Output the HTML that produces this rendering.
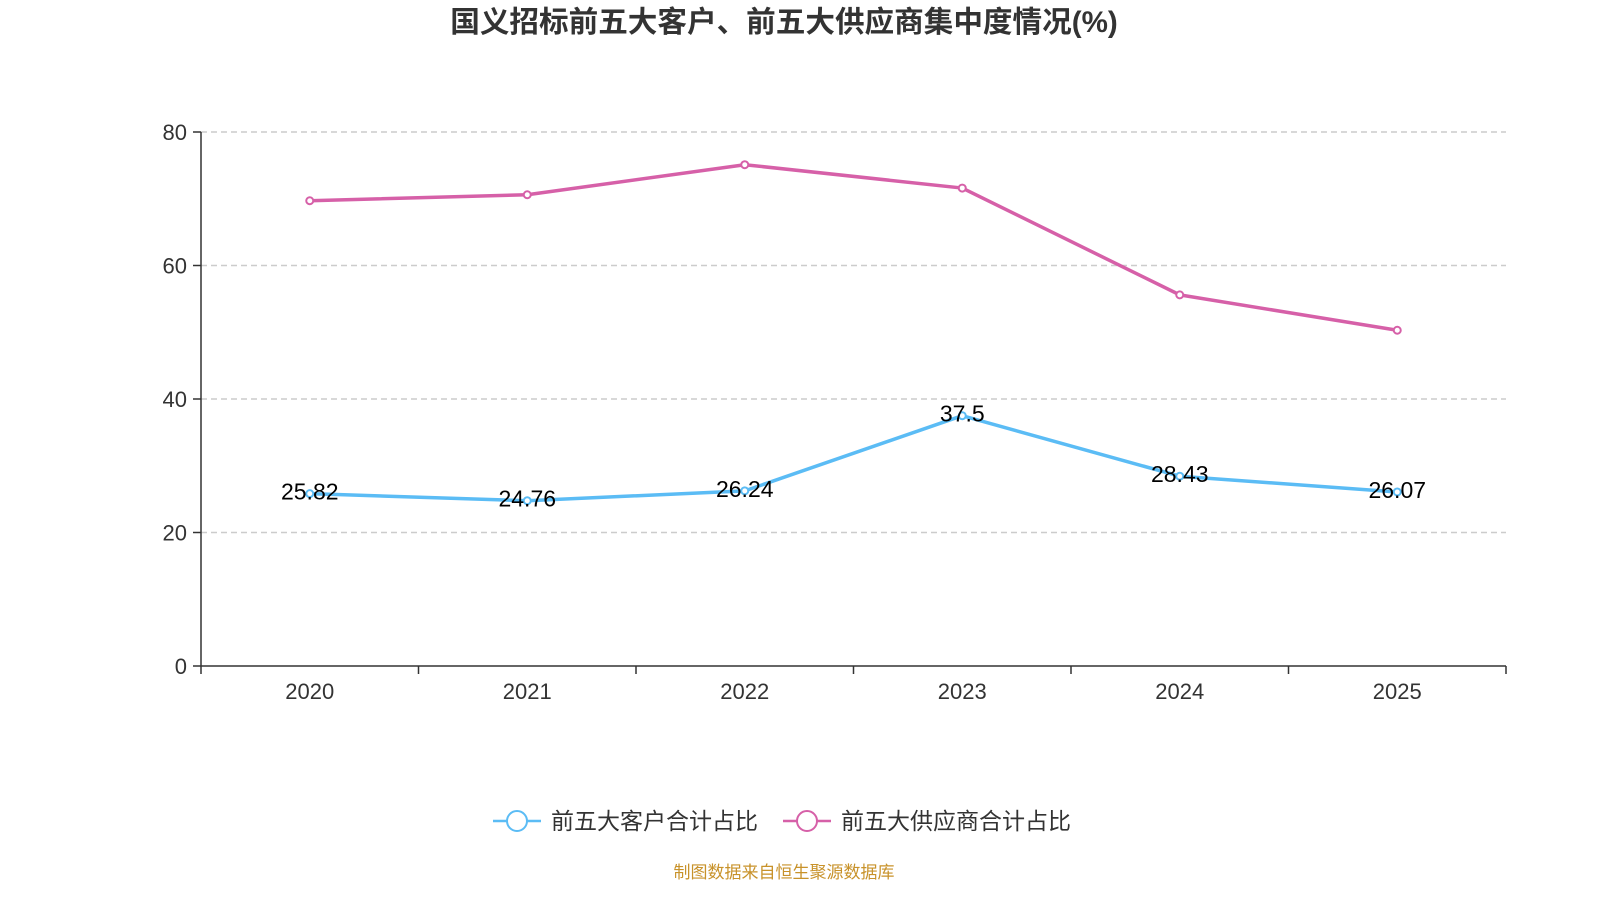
<!DOCTYPE html>
<html><head><meta charset="utf-8">
<style>
html,body{margin:0;padding:0;background:#fff;}
svg{display:block;font-family:"Liberation Sans","Noto Sans CJK SC",sans-serif;}
</style></head>
<body>
<svg id="chart" width="1600" height="900" xmlns="http://www.w3.org/2000/svg">
<text x="784" y="32" text-anchor="middle" font-size="29.6" font-weight="bold" fill="#333">国义招标前五大客户、前五大供应商集中度情况(%)</text>
<g id="grid"></g>
<g id="axes"></g>
<g id="series"></g>
<g>
<g>
<line x1="493" y1="821" x2="541" y2="821" stroke="#5bbcf5" stroke-width="2.5"/>
<circle cx="517" cy="821" r="10" fill="#fff" stroke="#5bbcf5" stroke-width="2"/>
<text x="551" y="829" font-size="23" fill="#333">前五大客户合计占比</text>
</g>
<g>
<line x1="783" y1="821" x2="831" y2="821" stroke="#d660a8" stroke-width="2.5"/>
<circle cx="807" cy="821" r="10" fill="#fff" stroke="#d660a8" stroke-width="2"/>
<text x="841" y="829" font-size="23" fill="#333">前五大供应商合计占比</text>
</g>
</g>
<text x="784" y="878" text-anchor="middle" font-size="17" fill="#c8922a">制图数据来自恒生聚源数据库</text>
</svg>
<script>
const categories=["2020","2021","2022","2023","2024","2025"];
const customerValues=[25.82,24.76,26.24,37.5,28.43,26.07];
const supplierValues=[69.7,70.6,75.1,71.6,55.6,50.3];
const yTicks=[0,20,40,60,80];
const customerLabels=["25.82","24.76","26.24","37.5","28.43","26.07"];

const NS="http://www.w3.org/2000/svg";
const x0=201,x1=1506,yTop=132,yBot=666,yMax=80;
const step=(x1-x0)/categories.length;
const xs=i=>x0+step*(i+0.5);
const ys=v=>yBot-(v/yMax)*(yBot-yTop);
function mk(tag,attrs,parent){const e=document.createElementNS(NS,tag);for(const k in attrs)e.setAttribute(k,attrs[k]);parent.appendChild(e);return e;}
const grid=document.getElementById('grid'),axes=document.getElementById('axes'),series=document.getElementById('series');
yTicks.forEach(t=>{
  const y=ys(t);
  if(t>0){const g=mk('line',{x1:x0,x2:x1,y1:y,y2:y,stroke:'#ccc','stroke-dasharray':'6,4','stroke-width':1.5},grid);
  
  }
  mk('line',{x1:x0-8,x2:x0,y1:y,y2:y,stroke:'#333','stroke-width':1.5},axes);
  const tx=mk('text',{x:x0-14,y:y+8,'text-anchor':'end','font-size':22,fill:'#333'},axes);
  tx.textContent=t;
  
  
});
const ya=mk('line',{x1:x0,x2:x0,y1:yTop,y2:yBot,stroke:'#333','stroke-width':1.5},axes);


const xa=mk('line',{x1:x0,x2:x1,y1:yBot,y2:yBot,stroke:'#333','stroke-width':1.5},axes);


for(let i=0;i<=categories.length;i++){const x=x0+step*i;mk('line',{x1:x,x2:x,y1:yBot,y2:yBot+8,stroke:'#333','stroke-width':1.5},axes);}
categories.forEach((c,i)=>{
  const t=mk('text',{x:xs(i),y:699,'text-anchor':'middle','font-size':22,fill:'#333'},axes);
  t.textContent=c;
  
  
});
function drawSeries(vals,color,name,labels){
  const p=mk('polyline',{points:vals.map((v,i)=>xs(i)+','+ys(v)).join(' '),fill:'none',stroke:color,'stroke-width':3.5,'stroke-linejoin':'round'},series);
  
  
  vals.forEach((v,i)=>{
    const c=mk('circle',{cx:xs(i),cy:ys(v),r:3.5,fill:'#fff',stroke:color,'stroke-width':2},series);
    
    
    if(labels){
      const t=mk('text',{x:xs(i),y:ys(v)+6,'text-anchor':'middle','font-size':23,fill:'#000'},series);
      t.textContent=labels[i];
      
      
    }
  });
}
drawSeries(supplierValues,'#d660a8','supplier',null);
drawSeries(customerValues,'#5bbcf5','customer',customerLabels);
</script>
</body></html>
